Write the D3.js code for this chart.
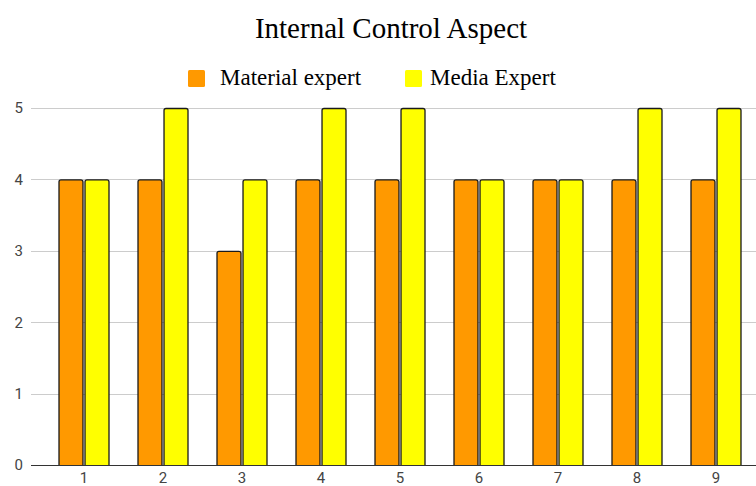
<!DOCTYPE html>
<html>
<head>
<meta charset="utf-8">
<script src="https://cdn.jsdelivr.net/npm/d3@7/dist/d3.min.js"></script>
<style>
  html, body { margin: 0; padding: 0; background: #fff; overflow: hidden; }
  svg { display: block; }
</style>
</head>
<body>
<svg id="chart" width="756" height="486"></svg>
<script>
// Scores per aspect item, given by each reviewer
const categories = ["1", "2", "3", "4", "5", "6", "7", "8", "9"];
const materialExpert = [4, 4, 3, 4, 4, 4, 4, 4, 4];
const mediaExpert = [4, 5, 4, 5, 5, 4, 4, 5, 5];
const seriesNames = ["Material expert", "Media Expert"];
const seriesColors = ["#ff9900", "#ffff00"];
const yTicks = [0, 1, 2, 3, 4, 5];

const svg = d3.select("#chart");
const plot = { left: 31, right: 756, top: 108, bottom: 465 };

const x = d3.scaleBand().domain(categories).range([44.5, 755.5]).paddingInner(0).paddingOuter(0);
const xs = d3.scaleBand().domain(seriesNames).range([-25.5, 25.5]).paddingInner(0.04);
const y = d3.scaleLinear().domain([0, 5]).range([plot.bottom, plot.top]);

// Title
svg.append("text")
  .attr("x", 391).attr("y", 38)
  .attr("text-anchor", "middle")
  .attr("font-family", "'Liberation Serif', 'Times New Roman', serif")
  .attr("font-size", 29)
  .attr("fill", "#000")
  .text("Internal Control Aspect");

// Legend
const legend = svg.append("g");
const legendItems = [
  { name: seriesNames[0], color: seriesColors[0], sx: 188, tx: 220 },
  { name: seriesNames[1], color: seriesColors[1], sx: 405, tx: 430 }
];
legendItems.forEach(it => {
  legend.append("rect")
    .attr("x", it.sx).attr("y", 70).attr("width", 17).attr("height", 17)
    .attr("rx", 1.5)
    .attr("fill", it.color);
  legend.append("text")
    .attr("x", it.tx).attr("y", 85)
    .attr("font-family", "'Liberation Serif', 'Times New Roman', serif")
    .attr("font-size", 23)
    .attr("fill", "#000")
    .text(it.name);
});

// Gridlines
svg.append("g").selectAll("line")
  .data(yTicks.filter(d => d > 0))
  .join("line")
  .attr("x1", plot.left).attr("x2", plot.right)
  .attr("y1", d => Math.round(y(d)) + 0.5).attr("y2", d => Math.round(y(d)) + 0.5)
  .attr("stroke", "#cccccc").attr("stroke-width", 1);

// Y axis labels
const yAxis = d3.axisLeft(y).tickValues(yTicks).tickSize(0).tickPadding(0).tickFormat(d3.format("d"));
const yg = svg.append("g").attr("transform", "translate(23,0)").call(yAxis);
yg.select(".domain").remove();
yg.selectAll("text")
  .attr("font-family", "Roboto, Arial, sans-serif")
  .attr("font-size", 15)
  .attr("fill", "#444");

// Bars are clipped at the baseline so only the top corners appear rounded
svg.append("clipPath").attr("id", "plot-clip")
  .append("rect").attr("x", -1000).attr("y", 0).attr("width", 3000).attr("height", plot.bottom);

const rows = categories.map((c, i) => ({ cat: c, values: [materialExpert[i], mediaExpert[i]] }));
const groups = svg.append("g").selectAll("g")
  .data(rows)
  .join("g")
  .attr("transform", d => `translate(${x(d.cat) + x.bandwidth() / 2},0)`);

groups.selectAll("rect")
  .data(d => d.values.map((v, j) => ({ v, j })))
  .join("rect")
  .attr("clip-path", "url(#plot-clip)")
  .attr("x", d => xs(seriesNames[d.j]) + 0.5)
  .attr("y", d => y(d.v) + 0.5)
  .attr("width", xs.bandwidth() - 1)
  .attr("height", d => y(0) - y(d.v) + 4)
  .attr("rx", 2)
  .attr("fill", d => seriesColors[d.j])
  .attr("stroke", "#1a1a1a")
  .attr("stroke-width", 1.3);

// Baseline
svg.append("line")
  .attr("x1", plot.left).attr("x2", plot.right)
  .attr("y1", plot.bottom + 0.5).attr("y2", plot.bottom + 0.5)
  .attr("stroke", "#333").attr("stroke-width", 1.2);

// X axis labels
const xAxis = d3.axisBottom(x).tickSize(0).tickPadding(0);
const xg = svg.append("g").attr("transform", `translate(0,${plot.bottom})`).call(xAxis);
xg.select(".domain").remove();
xg.selectAll("text")
  .attr("dy", null)
  .attr("y", 18)
  .attr("font-family", "Roboto, Arial, sans-serif")
  .attr("font-size", 15)
  .attr("fill", "#444");
</script>
</body>
</html>
